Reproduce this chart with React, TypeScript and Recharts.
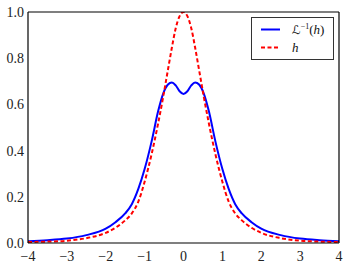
import React from "react";
import { LineChart, Line, XAxis, YAxis } from "recharts";

const xValues = [
  -4, -3.5, -3, -2.5, -2, -1.75, -1.5, -1.33, -1.16, -1, -0.82, -0.65, -0.52, -0.4, -0.3, -0.2, -0.1, 0,
  0.1, 0.2, 0.3, 0.4, 0.52, 0.65, 0.82, 1, 1.16, 1.33, 1.5, 1.75, 2, 2.5, 3, 3.5, 4,
];
const inverseValues = [
  0.008, 0.012, 0.019, 0.034, 0.062, 0.09, 0.128, 0.168, 0.235, 0.32, 0.44, 0.572, 0.648, 0.686, 0.695, 0.682, 0.657, 0.645,
  0.657, 0.682, 0.695, 0.686, 0.648, 0.572, 0.44, 0.32, 0.235, 0.168, 0.128, 0.09, 0.062, 0.034, 0.019, 0.012, 0.008,
];
const hValues = [
  0.004, 0.006, 0.01, 0.021, 0.044, 0.066, 0.098, 0.128, 0.18, 0.265, 0.385, 0.52, 0.635, 0.75, 0.845, 0.93, 0.982, 1.0,
  0.982, 0.93, 0.845, 0.75, 0.635, 0.52, 0.385, 0.265, 0.18, 0.128, 0.098, 0.066, 0.044, 0.021, 0.01, 0.006, 0.004,
];
const xTicks = [-4, -3, -2, -1, 0, 1, 2, 3, 4];
const yTicks = [0, 0.2, 0.4, 0.6, 0.8, 1.0];

const data = xValues.map((x, i) => ({ x, inv: inverseValues[i], h: hValues[i] }));

const serif = "Liberation Serif, DejaVu Serif, serif";
const tickStyle = { fill: "#222", fontSize: 14, fontFamily: serif };

const fmtX = (v: number) => (v < 0 ? `\u2212${Math.abs(v)}` : `${v}`);
const fmtY = (v: number) => v.toFixed(1);

function LegendBox() {
  return (
    <div
      style={{
        position: "absolute",
        left: 251,
        top: 17,
        width: 81,
        height: 41,
        border: "1px solid #333",
        background: "#fff",
      }}
    >
      <svg width={81} height={41} style={{ position: "absolute", left: 0, top: 0 }}>
        <line x1={9} x2={28} y1={11.5} y2={11.5} stroke="#0000ff" strokeWidth={2} />
        <line x1={9} x2={28} y1={29.5} y2={29.5} stroke="#ff0000" strokeWidth={2} strokeDasharray="4 2.5" />
        <text x={40} y={16} style={{ fontFamily: serif, fontSize: 13 }} fill="#111">
          <tspan style={{ fontFamily: "DejaVu Sans, sans-serif", fontSize: 12 }}>ℒ</tspan>
          <tspan style={{ fontSize: 8 }} dy={-5}>{"\u22121"}</tspan>
          <tspan dy={5}>(</tspan>
          <tspan style={{ fontStyle: "italic" }}>h</tspan>
          <tspan>)</tspan>
        </text>
        <text x={40} y={34} style={{ fontFamily: serif, fontSize: 13, fontStyle: "italic" }} fill="#111">
          h
        </text>
      </svg>
    </div>
  );
}

export default function App() {
  return (
    <div style={{ position: "absolute", left: 0, top: 0, width: 347, height: 269, background: "#fff" }}>
      <LineChart width={347} height={269} data={data} margin={{ top: 12, right: 8, left: 0, bottom: 0 }}>
        <XAxis
          dataKey="x"
          type="number"
          domain={[-4, 4]}
          ticks={xTicks}
          tickFormatter={fmtX}
          tick={tickStyle}
          tickLine={false}
          tickSize={0}
          tickMargin={8}
          height={26}
          axisLine={{ stroke: "#000", strokeWidth: 1.2 }}
          allowDataOverflow
        />
        <XAxis
          xAxisId="bottomTicks"
          dataKey="x"
          type="number"
          orientation="bottom"
          mirror
          domain={[-4, 4]}
          ticks={xTicks}
          tick={false}
          tickSize={4}
          tickLine={{ stroke: "#000" }}
          axisLine={false}
          allowDataOverflow
        />
        <XAxis
          xAxisId="top"
          dataKey="x"
          type="number"
          orientation="top"
          mirror
          domain={[-4, 4]}
          ticks={xTicks}
          tick={false}
          tickSize={4}
          tickLine={{ stroke: "#000" }}
          axisLine={{ stroke: "#000", strokeWidth: 1.2 }}
          allowDataOverflow
        />
        <YAxis
          type="number"
          domain={[0, 1]}
          ticks={yTicks}
          tickFormatter={fmtY}
          tick={tickStyle}
          tickLine={false}
          tickSize={0}
          tickMargin={4}
          width={28}
          axisLine={{ stroke: "#000", strokeWidth: 1.2 }}
          allowDataOverflow
        />
        <YAxis
          yAxisId="leftTicks"
          type="number"
          orientation="left"
          mirror
          domain={[0, 1]}
          ticks={yTicks}
          tick={false}
          tickSize={4}
          tickLine={{ stroke: "#000" }}
          axisLine={false}
          allowDataOverflow
        />
        <YAxis
          yAxisId="right"
          type="number"
          orientation="right"
          mirror
          domain={[0, 1]}
          ticks={yTicks}
          tick={false}
          tickSize={4}
          tickLine={{ stroke: "#000" }}
          axisLine={{ stroke: "#000", strokeWidth: 1.2 }}
          allowDataOverflow
        />
        <Line
          type="monotone"
          dataKey="inv"
          stroke="#0000ff"
          strokeWidth={2}
          dot={false}
          isAnimationActive={false}
        />
        <Line
          type="monotone"
          dataKey="h"
          stroke="#ff0000"
          strokeWidth={2}
          strokeDasharray="4 2.5"
          dot={false}
          isAnimationActive={false}
        />
      </LineChart>
      <LegendBox />
    </div>
  );
}
